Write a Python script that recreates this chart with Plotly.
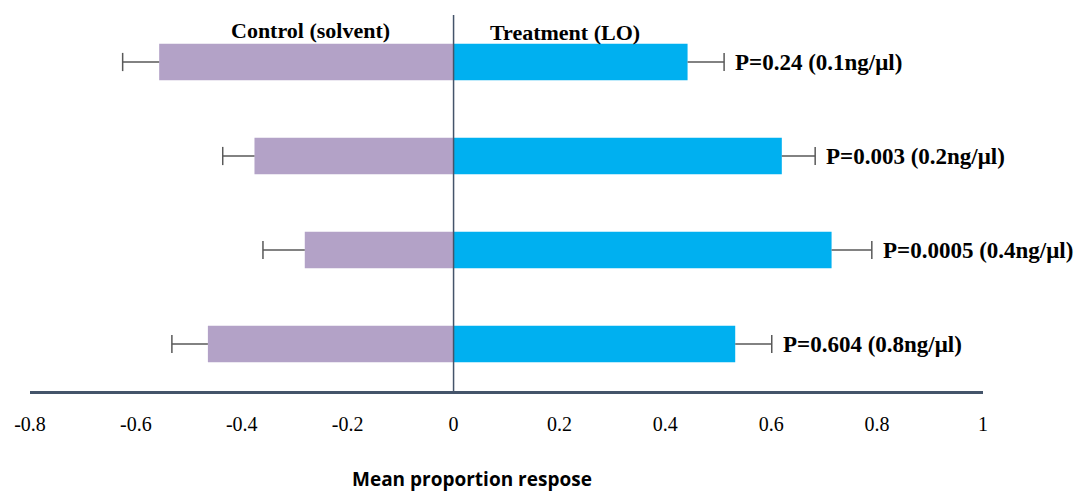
import plotly.graph_objects as go

doses = ["0.1ng/μl", "0.2ng/μl", "0.4ng/μl", "0.8ng/μl"]
control_mean = [-0.556, -0.376, -0.281, -0.464]
control_err = [0.069, 0.060, 0.079, 0.068]
treatment_mean = [0.442, 0.620, 0.714, 0.532]
treatment_err = [0.069, 0.063, 0.076, 0.069]
p_values = ["0.24", "0.003", "0.0005", "0.604"]
x_ticks = [-0.8, -0.6, -0.4, -0.2, 0, 0.2, 0.4, 0.6, 0.8, 1]
x_ticklabels = ["-0.8", "-0.6", "-0.4", "-0.2", "0", "0.2", "0.4", "0.6", "0.8", "1"]

serif = "Liberation Serif"
err_color = "#595959"

fig = go.Figure()
fig.add_trace(go.Bar(
    y=doses, x=control_mean, orientation="h", name="Control (solvent)",
    marker=dict(color="#b3a2c7", line=dict(width=0)),
))
fig.add_trace(go.Bar(
    y=doses, x=treatment_mean, orientation="h", name="Treatment (LO)",
    marker=dict(color="#00b0f0", line=dict(width=0)),
))

# one-sided error bars (whisker + end cap only)
wx, wy, cx, cy = [], [], [], []
for d, m, e in zip(doses, control_mean, control_err):
    wx += [m, m - e, None]
    wy += [d, d, None]
    cx.append(m - e)
    cy.append(d)
for d, m, e in zip(doses, treatment_mean, treatment_err):
    wx += [m, m + e, None]
    wy += [d, d, None]
    cx.append(m + e)
    cy.append(d)
fig.add_trace(go.Scatter(x=wx, y=wy, mode="lines", line=dict(color=err_color, width=1.5),
                         hoverinfo="skip"))
fig.add_trace(go.Scatter(x=cx, y=cy, mode="markers", hoverinfo="skip",
                         marker=dict(symbol="line-ns", size=13,
                                     line=dict(color=err_color, width=1.5))))

for d, t, e, p in zip(doses, treatment_mean, treatment_err, p_values):
    fig.add_annotation(x=t + e, y=d, text=f"<b>P={p} ({d})</b>", showarrow=False,
                       xanchor="left", yanchor="middle", xshift=9,
                       font=dict(family=serif, size=23, color="black"))

fig.add_annotation(x=-0.27, y=1.0, xref="x", yref="paper", text="<b>Control (solvent)</b>",
                   showarrow=False, xanchor="center", yanchor="middle", yshift=-15,
                   font=dict(family=serif, size=22, color="black"))
fig.add_annotation(x=0.21, y=1.0, xref="x", yref="paper", text="<b>Treatment (LO)</b>",
                   showarrow=False, xanchor="center", yanchor="middle", yshift=-17,
                   font=dict(family=serif, size=22, color="black"))
fig.add_annotation(x=0.035, y=0, xref="x", yref="paper", text="<b>Mean proportion respose</b>",
                   showarrow=False, xanchor="center", yanchor="middle", yshift=-88,
                   font=dict(family="Open Sans", size=19, color="black"))

fig.add_shape(type="line", x0=0, x1=0, y0=0, y1=1, xref="x", yref="paper",
              line=dict(color="#44546a", width=1.5))

fig.update_layout(
    width=1084, height=493,
    margin=dict(l=30, r=101, t=15, b=102),
    barmode="overlay", bargap=0.61,
    plot_bgcolor="white", paper_bgcolor="white",
    showlegend=False,
    xaxis=dict(range=[-0.8, 1.0], tickvals=x_ticks, ticktext=x_ticklabels,
               showgrid=False, zeroline=False, showline=True, linecolor="#44546a", linewidth=2.5,
               ticks="", ticklabelstandoff=13,
               tickfont=dict(family=serif, size=20, color="black")),
    yaxis=dict(autorange="reversed", showticklabels=False, showgrid=False,
               zeroline=False, showline=False, ticks=""),
)

fig.write_html("out.html", config={"displayModeBar": False},
               post_script="document.body.style.margin='0';document.body.style.overflow='hidden';")
